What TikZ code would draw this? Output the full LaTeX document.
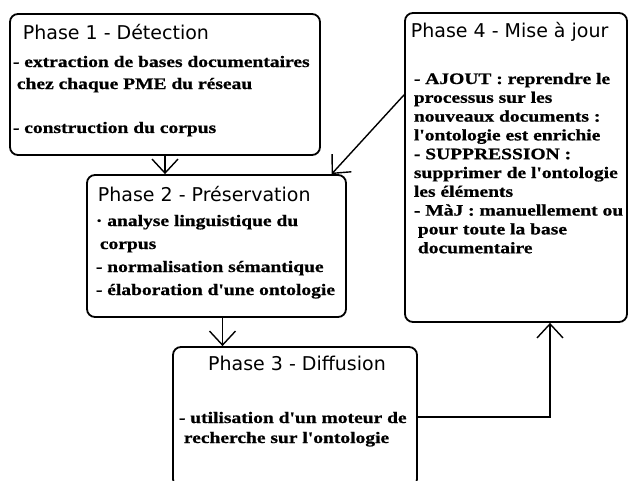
\documentclass[tikz,border=0pt]{standalone}
\usepackage{fontspec}
\newfontfamily\bodyfont[FakeStretch=1.22, BoldFeatures={FakeBold=0.8}]{Liberation Serif}
\newfontfamily\titlefont{DejaVu Sans}
\usetikzlibrary{arrows.meta}

\begin{document}
\begin{tikzpicture}[x=1pt, y=-1pt, line width=1.8pt,
    box/.style={draw, rounded corners=8pt, inner sep=0pt},
    title/.style={font=\titlefont\fontsize{19}{22}\selectfont, anchor=base west, inner sep=0pt},
    body/.style={font=\bodyfont\bfseries\fontsize{16}{#1}\selectfont, align=left, anchor=north west, inner sep=0pt},
    link/.style={line width=1.4pt, -{Straight Barb[length=14pt, width=26pt]}}]
  \useasboundingbox (0,0) rectangle (629,481);
  \clip (0,0) rectangle (629,481);
  % phases: detection, preservation, diffusion, mise a jour
  \foreach \n/\x/\y/\w/\h in {
      p1/165/84.5/310pt/141pt,
      p2/216.5/246/259pt/142pt,
      p3/295/417/244pt/140pt,
      p4/516/167.5/222pt/309pt}
    \node[box, minimum width=\w, minimum height=\h] (\n) at (\x,\y) {};
  \node[title] (t1) at (22,40) {Phase 1 - Détection};
  \node[title] (t2) at (97,202) {Phase 2 - Préservation};
  \node[title, anchor=base] (t3) at (297,370) {Phase 3 - Diffusion};
  \node[title] (t4) at (410,38) {Phase 4 - Mise à jour};
  \node[body=22pt] (b1) at (12,55) {- extraction de bases documentaires\\
    \hspace{4pt}chez chaque PME du réseau\\ \\ - construction du corpus};
  \node[body=23pt] (b2) at (95,214) {· analyse linguistique du\\
    \hspace{4pt}corpus\\ - normalisation sémantique\\ - élaboration d'une ontologie};
  \node[body=20pt] (b3) at (178,411) {- utilisation d'un moteur de\\
    \hspace{5pt}recherche sur l'ontologie};
  \node[body=18.8pt] (b4) at (413,72) {- AJOUT : reprendre le\\ processus sur les\\
    nouveaux documents :\\ l'ontologie est enrichie\\ - SUPPRESSION :\\
    supprimer de l'ontologie\\ les éléments\\ - MàJ : manuellement ou\\
    \hspace{4pt}pour toute la base\\ \hspace{4pt}documentaire};
  \draw[link] (p1.south) -- (p1.south |- p2.north);
  \draw[link] (p4.147) -- (p2.32);
  \draw[link] ([xshift=6pt]p2.south) -- ([xshift=6pt]p2.south |- p3.north);
  \draw[link] (p3.east) -| ([xshift=34pt]p4.south);
\end{tikzpicture}
\end{document}
